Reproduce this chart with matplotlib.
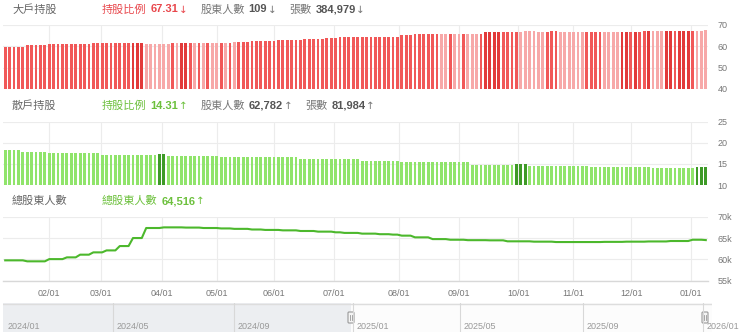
import matplotlib
matplotlib.use("Agg")
import matplotlib.pyplot as plt
from matplotlib.patches import Rectangle, FancyBboxPatch

W, H = 740, 332
CJK = ["Noto Sans CJK TC", "DejaVu Sans"]
LATIN = ["Liberation Sans", "DejaVu Sans"]
ARROW = ["Noto Sans", "DejaVu Sans"]

# 大戶持股比例 (%), one value per bar
big_ratio = [
    59.6, 59.6, 59.6, 59.6, 59.6, 60.5, 60.5, 60.5, 60.5, 60.5,
    61.0, 61.0, 61.0, 61.0, 61.0, 61.0, 61.0, 61.0, 61.0, 61.0,
    61.2, 61.2, 61.2, 61.2, 61.2, 61.2, 61.2, 61.2, 61.2, 61.5,
    61.5, 61.5, 61.1, 61.1, 61.1, 61.1, 61.1, 61.1, 61.6, 61.6,
    61.6, 61.6, 61.6, 61.6, 61.6, 61.6, 61.6, 61.6, 61.6, 61.6,
    61.6, 61.6, 62.0, 62.0, 62.0, 62.0, 62.4, 62.4, 62.4, 62.4,
    62.4, 62.4, 62.6, 62.6, 62.6, 62.6, 62.6, 62.6, 63.3, 63.3,
    63.3, 63.3, 63.3, 63.8, 63.8, 63.8, 64.1, 64.1, 64.1, 64.1,
    64.1, 64.1, 64.1, 64.1, 64.4, 64.4, 64.4, 64.4, 64.4, 64.4,
    64.9, 64.9, 64.9, 65.7, 65.7, 65.7, 65.7, 65.7, 65.7, 65.7,
    65.6, 65.6, 65.6, 65.6, 65.6, 65.6, 65.6, 65.6, 65.6, 66.3,
    66.3, 66.3, 66.3, 66.6, 66.6, 66.6, 66.6, 66.6, 67.1, 67.1,
    67.1, 66.6, 66.6, 66.6, 67.2, 67.2, 66.7, 66.7, 66.7, 66.7,
    66.7, 66.7, 66.7, 66.7, 66.7, 66.7, 66.7, 66.7, 66.7, 66.7,
    66.7, 66.7, 66.7, 66.7, 66.7, 67.1, 67.1, 67.1, 67.1, 67.1,
    67.1, 67.1, 67.1, 67.1, 67.1, 67.1, 67.1, 67.1, 67.1, 67.31,
]
big_shade = (
    "rrrrrrrrrr" "rrrrrrrrrr" "rrrrrrrrrd" "ddllllllrl"
    "ddrlrlrllr" "lrlrrrrrrr" "rrrrrrrrrr" "rrrrrrrrrr"
    "rrrrrrrrrr" "rrrrrrrrrl" "lrllrlllrd" "dddrrrrlll"
    "lllrrrllll" "llrrrrllll" "ddrdrrdlll" "ddrdddrlll"
)

# 散戶持股比例 (%)
small_ratio = [
    18.2, 18.2, 18.2, 18.2, 17.9, 17.9, 17.9, 17.9, 17.9, 17.9,
    17.5, 17.5, 17.5, 17.5, 17.5, 17.5, 17.5, 17.5, 17.5, 17.5,
    17.5, 17.5, 17.2, 17.2, 17.2, 17.2, 17.2, 17.2, 17.2, 17.2,
    17.2, 17.2, 17.2, 17.2, 17.2, 17.3, 17.3, 16.9, 16.9, 16.9,
    16.9, 16.9, 16.9, 16.9, 16.9, 16.9, 16.9, 16.9, 16.9, 16.55,
    16.55, 16.55, 16.55, 16.55, 16.55, 16.55, 16.55, 16.55, 16.55, 16.55,
    16.55, 16.55, 16.55, 16.55, 16.55, 16.55, 16.55, 16.1, 16.1, 16.1,
    16.1, 16.1, 16.1, 16.1, 16.1, 16.1, 16.1, 16.1, 16.1, 16.1,
    16.1, 15.75, 15.75, 15.75, 15.75, 15.75, 15.75, 15.75, 15.75, 15.75,
    15.45, 15.45, 15.45, 15.45, 15.45, 15.45, 15.45, 15.45, 15.45, 15.45,
    15.45, 15.45, 15.45, 15.45, 15.45, 15.45, 14.8, 14.8, 14.8, 14.8,
    14.8, 14.8, 14.8, 14.8, 14.8, 14.8, 14.95, 14.95, 14.95, 14.55,
    14.55, 14.55, 14.55, 14.55, 14.55, 14.55, 14.55, 14.55, 14.55, 14.55,
    14.55, 14.55, 14.55, 14.35, 14.35, 14.35, 14.35, 14.35, 14.35, 14.35,
    14.35, 14.35, 14.35, 14.35, 14.35, 14.35, 14.35, 14.05, 14.05, 14.05,
    14.05, 14.05, 14.05, 14.05, 14.05, 14.05, 14.05, 14.31, 14.31, 14.31,
]
small_shade = (
    "gggggggggg" "gggggggggg" "gggggggggg" "gggggddggg"
    "gggggggggg" "gggggggggg" "gggggggggg" "gggggggggg"
    "gggggggggg" "gggggggggg" "gggggggggg" "ggggggdddg"
    "gggggggggg" "gggggggggg" "gggggggggg" "gggggggddd"
)

# 總股東人數
total_holders = [
    59770, 59770, 59770, 59770, 59770, 59540, 59540, 59540, 59540, 59540,
    60060, 60060, 60060, 60060, 60470, 60470, 60470, 61100, 61100, 61100,
    61640, 61640, 61640, 62100, 62100, 62100, 63120, 63120, 63120, 65000,
    65000, 65000, 67350, 67350, 67350, 67350, 67500, 67500, 67500, 67500,
    67500, 67450, 67450, 67450, 67450, 67350, 67350, 67350, 67350, 67250,
    67250, 67250, 67150, 67150, 67150, 67150, 67000, 67000, 67000, 66900,
    66900, 66900, 66900, 66800, 66800, 66800, 66800, 66650, 66650, 66650,
    66650, 66500, 66500, 66500, 66500, 66340, 66340, 66200, 66200, 66200,
    66200, 66030, 66030, 66030, 66030, 65900, 65900, 65900, 65800, 65800,
    65560, 65560, 65560, 65160, 65160, 65160, 65160, 64750, 64750, 64750,
    64750, 64600, 64600, 64600, 64600, 64500, 64500, 64500, 64500, 64500,
    64460, 64460, 64460, 64460, 64230, 64230, 64230, 64230, 64230, 64230,
    64150, 64150, 64150, 64150, 64150, 64060, 64060, 64060, 64060, 64060,
    64060, 64060, 64060, 64060, 64060, 64060, 64100, 64100, 64100, 64100,
    64100, 64150, 64150, 64150, 64150, 64150, 64200, 64200, 64200, 64200,
    64200, 64300, 64300, 64300, 64300, 64300, 64600, 64600, 64600, 64516,
]

month_labels = ["02/01", "03/01", "04/01", "05/01", "06/01", "07/01",
                "08/01", "09/01", "10/01", "11/01", "12/01", "01/01"]
month_pos = [9.9, 21.7, 35.6, 48.1, 61.0, 74.6, 89.4, 103.0, 116.4, 128.9, 142.1, 155.7]

big_ticks = [40, 50, 60, 70]
small_ticks = [10, 15, 20, 25]
total_ticks = [55000, 60000, 65000, 70000]
total_tick_labels = ["55k", "60k", "65k", "70k"]

big_stats = [("持股比例", "67.31", "↓"), ("股東人數", "109", "↓"), ("張數", "384,979", "↓")]
small_stats = [("持股比例", "14.31", "↑"), ("股東人數", "62,782", "↑"), ("張數", "81,984", "↑")]
total_stats = [("總股東人數", "64,516", "↑")]

nav_labels = ["2024/01", "2024/05", "2024/09", "2025/01", "2025/05", "2025/09", "2026/01"]

RED = "#e8474c"
GREEN = "#6cc03c"
RED_SHADES = {"r": "#f15858", "d": "#e23a3a", "l": "#f7a8a8"}
GREEN_SHADES = {"g": "#90e46b", "m": "#72d14f", "d": "#3e9a27"}
GRID = "#ececec"
TICK = "#777777"


def px_axes(left, top, right, bottom):
    return fig.add_axes([left / W, 1 - bottom / H, (right - left) / W, (bottom - top) / H])


def style_axes(ax, yticks, ylabels=None):
    ax.set_xlim(-0.5, len(big_ratio) - 0.5)
    ax.set_xticks(month_pos)
    ax.set_yticks(yticks)
    if ylabels is not None:
        ax.set_yticklabels(ylabels)
    ax.yaxis.tick_right()
    ax.tick_params(axis="y", length=0, pad=7, labelsize=6.5, labelcolor=TICK)
    ax.tick_params(axis="x", length=0, labelbottom=False)
    for lab in ax.get_yticklabels():
        lab.set_family(LATIN)
    for s in ax.spines.values():
        s.set_visible(False)
    ax.grid(True, color=GRID, linewidth=0.8)
    ax.set_axisbelow(True)


fig = plt.figure(figsize=(W / 100, H / 100), dpi=100)
renderer = fig.canvas.get_renderer()
x = list(range(len(big_ratio)))

# top panel
ax1 = px_axes(3, 24.5, 708, 89)
ax1.bar(x, [v - 40 for v in big_ratio], bottom=40, width=0.64, linewidth=0,
        color=[RED_SHADES[c] for c in big_shade])
ax1.set_ylim(40, 70)
style_axes(ax1, big_ticks)

# middle panel
ax2 = px_axes(3, 121.7, 708, 185)
ax2.bar(x, [v - 10 for v in small_ratio], bottom=10, width=0.64, linewidth=0,
        color=[GREEN_SHADES[c] for c in small_shade])
ax2.set_ylim(10, 25)
style_axes(ax2, small_ticks)

# bottom panel
ax3 = px_axes(3, 216.7, 708, 280.7)
ax3.plot(x, total_holders, color="#4cb82c", linewidth=1.5)
ax3.set_ylim(55000, 70000)
style_axes(ax3, total_ticks, total_tick_labels)
ax3.tick_params(axis="x", labelbottom=True, pad=6, labelsize=6.5, labelcolor=TICK)
ax3.set_xticklabels(month_labels, family=LATIN)
ax3.axhline(55000, color="#d8d8d8", linewidth=1, clip_on=False)


def put(x0, y0, s, color, family, weight="normal", size=8):
    t = fig.text(x0 / W, 1 - y0 / H, s, color=color, family=family,
                 weight=weight, fontsize=size, ha="left", va="baseline")
    return x0 + t.get_window_extent(renderer).width


def title_row(y0, name, stats, accent):
    put(12, y0, name, "#666666", CJK)
    xx = 102
    for k, (label, num, arrow) in enumerate(stats):
        lc = accent if k == 0 else "#777777"
        nc = accent if k == 0 else "#555555"
        xx = put(xx, y0, label, lc, CJK)
        xx = put(xx + 4, y0, num, nc, LATIN, "bold")
        end = put(xx + 0.5, y0, arrow, lc, ARROW, size=7.5)
        xx = min(end, xx + 7) + 15


title_row(12.5, "大戶持股", big_stats, RED)
title_row(109, "散戶持股", small_stats, GREEN)
title_row(204, "總股東人數", total_stats, GREEN)

# range navigator
nav = px_axes(3, 303, 712, 332)
nav.set_xlim(3, 712)
nav.set_ylim(332, 303)
nav.axis("off")
nav.add_patch(Rectangle((3, 303), 348, 29, facecolor="#eceef1", edgecolor="none"))
nav.add_patch(Rectangle((351, 303), 361, 29, facecolor="#fcfcfc", edgecolor="none"))
nav.plot([3, 712], [303.5, 303.5], color="#dddddd", linewidth=1)
nav_sep = [3, 113, 234, 353, 460, 583, 703]
for sx, lab in zip(nav_sep, nav_labels):
    if sx > 3:
        nav.plot([sx, sx], [303, 332], color="#d8d8d8", linewidth=0.8)
    nav.text(sx + 4 if sx > 3 else 8, 329, lab, color="#999999", fontsize=6.5,
             family=LATIN, va="baseline", ha="left")
for hx in [348, 702]:
    nav.add_patch(FancyBboxPatch((hx, 312), 6, 11, boxstyle="round,pad=0,rounding_size=1",
                                 facecolor="#f4f4f4", edgecolor="#999999", linewidth=0.8))
    nav.plot([hx + 2.3, hx + 2.3], [315, 320], color="#999999", linewidth=0.6)
    nav.plot([hx + 3.7, hx + 3.7], [315, 320], color="#999999", linewidth=0.6)

fig.savefig("out.png", dpi=100)
